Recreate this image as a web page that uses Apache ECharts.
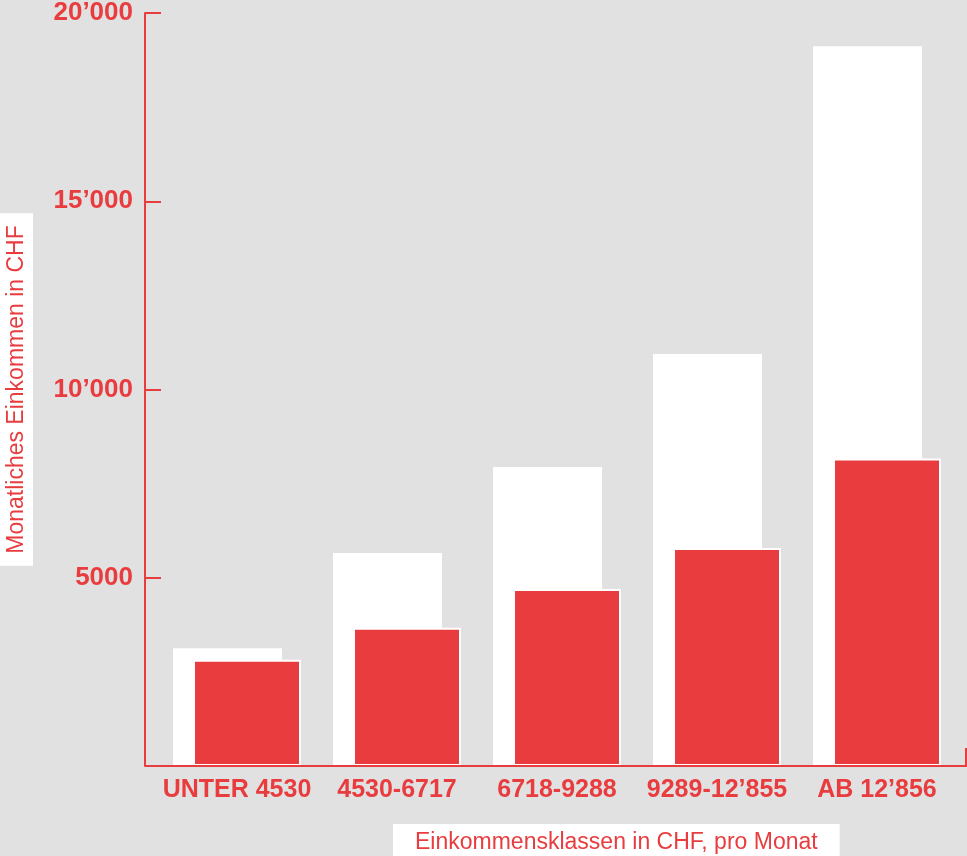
<!DOCTYPE html>
<html>
<head>
<meta charset="utf-8">
<script src="https://cdn.jsdelivr.net/npm/echarts@6/dist/echarts.min.js"></script>
<style>
  html, body { margin: 0; padding: 0; background: #e1e1e1; }
  #chart { width: 967px; height: 856px; }
</style>
</head>
<body>
<div id="chart"></div>
<script>
// Einkommensklassen (Monat, CHF)
const categories = ['UNTER 4530', '4530-6717', '6718-9288', '9289-12’855', 'AB 12’856'];
// weisse Balken (hinten)
const backValues = [3130, 5660, 7940, 10940, 19120];
// rote Balken (vorne)
const frontValues = [2820, 3670, 4700, 5790, 8170];
const yTicks = [0, 5000, 10000, 15000, 20000];

const RED = '#e83c3f';
const FONT = 'Liberation Sans, Arial, sans-serif';

function fmtTick(v) {
  if (v === 0) return '';
  if (v >= 10000) {
    const s = String(v);
    return s.slice(0, s.length - 3) + '’' + s.slice(-3);
  }
  return String(v);
}

const chart = echarts.init(document.getElementById('chart'));

chart.setOption({
  backgroundColor: '#e1e1e1',
  animation: false,
  grid: { left: 157, right: 10, top: 13, bottom: 90, containLabel: false, outerBoundsMode: 'none' },
  title: {
    text: 'Einkommensklassen in CHF, pro Monat',
    left: 393,
    top: 824,
    padding: [7, 22, 8, 22],
    backgroundColor: '#fff',
    textStyle: { color: RED, fontSize: 23, fontWeight: 'normal', fontFamily: FONT }
  },
  xAxis: {
    type: 'category',
    data: categories,
    axisLine: { show: false },
    axisTick: { show: false },
    axisLabel: {
      interval: 0,
      margin: 12,
      color: RED,
      fontSize: 25,
      fontWeight: 'bold',
      fontFamily: FONT
    }
  },
  yAxis: {
    type: 'value',
    min: yTicks[0],
    max: yTicks[yTicks.length - 1],
    interval: 5000,
    offset: 12,
    splitLine: { show: false },
    axisLine: { show: true, lineStyle: { color: RED, width: 2 } },
    axisTick: { show: true, inside: true, length: 16, lineStyle: { color: RED, width: 2 } },
    axisLabel: {
      margin: 12,
      color: RED,
      fontSize: 26,
      fontWeight: 'bold',
      fontFamily: FONT,
      formatter: fmtTick
    },
    name: 'Monatliches Einkommen in CHF',
    nameLocation: 'middle',
    nameRotate: 90,
    nameGap: 112,
    nameTextStyle: {
      color: RED,
      fontSize: 23,
      fontFamily: FONT,
      backgroundColor: '#fff',
      padding: [5, 12, 5, 12]
    }
  },
  series: [
    {
      type: 'bar',
      data: backValues,
      barWidth: 109,
      barGap: '-81.65%',
      itemStyle: { color: '#fff' }
    },
    {
      type: 'bar',
      data: frontValues,
      barWidth: 108,
      itemStyle: { color: RED, borderColor: '#fff', borderWidth: 2 }
    }
  ]
});

// Grundlinie: von der y-Achse bis zum rechten Rand, mit kleinem Haken am Ende
const y0 = chart.convertToPixel({ yAxisIndex: 0 }, 0);
const xStart = 157 - 12;
const xEnd = 966;
chart.setOption({
  graphic: [{
    type: 'polyline',
    shape: { points: [[xStart, y0], [xEnd, y0], [xEnd, y0 - 18]] },
    style: { stroke: RED, lineWidth: 2, fill: null },
    z: 10
  }]
});
</script>
</body>
</html>
